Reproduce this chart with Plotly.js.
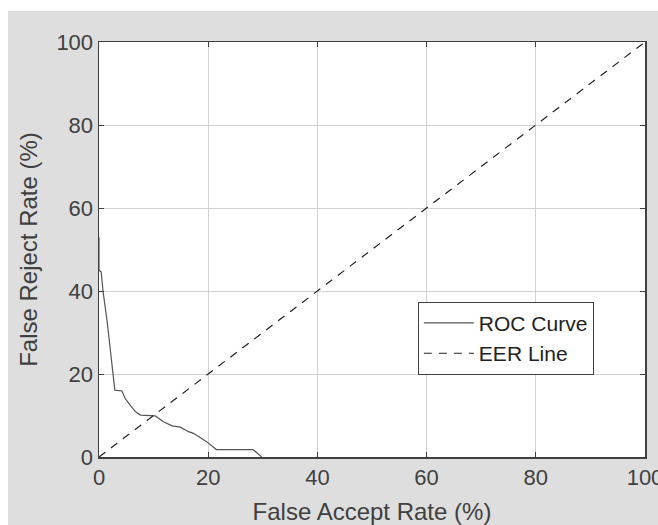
<!DOCTYPE html>
<html>
<head>
<meta charset="utf-8">
<script src="https://cdn.plot.ly/plotly-3.0.1.min.js"></script>
<style>
  html, body { margin: 0; padding: 0; background: #ffffff; overflow: hidden; }
  #chart { position: absolute; left: 8px; top: 11px; width: 650px; height: 514px; }
</style>
</head>
<body>
<div id="chart"></div>
<script>
// ROC curve values (False Accept Rate %, False Reject Rate %)
const rocFAR = [0, 0, 0.4, 0.75, 1.5, 1.9, 2.5, 2.9, 4.2, 4.8, 5.7, 6.7, 7.6, 9.7, 10.3, 11.8, 13.4, 14.9, 16.4, 17.3, 19.7, 21.5, 28.2, 29.8];
const rocFRR = [53, 45, 44.6, 39.8, 32.6, 28, 21, 16.1, 15.9, 14.1, 12.5, 10.9, 10.1, 9.9, 9.9, 8.5, 7.5, 7.2, 6.1, 5.7, 3.7, 1.8, 1.8, 0];
// Equal error rate reference line
const eerX = [0, 100];
const eerY = [0, 100];
const tickVals = [0, 20, 40, 60, 80, 100];
const tickText = ["0", "20", "40", "60", "80", "100"];

const font = "Liberation Sans, Arial, Helvetica, sans-serif";
const traces = [
  { x: rocFAR, y: rocFRR, type: "scatter", mode: "lines", name: "ROC Curve",
    line: { color: "#555555", width: 1.2 } },
  { x: eerX, y: eerY, type: "scatter", mode: "lines", name: "EER Line",
    line: { color: "#222222", width: 1.2, dash: "8px,7px" } }
];
const axisCommon = {
  range: [0, 100], tickvals: tickVals, ticktext: tickText,
  showgrid: true, gridcolor: "#d2d2d2", gridwidth: 1,
  showline: true, linecolor: "#404040", linewidth: 1.5, mirror: "ticks",
  ticks: "inside", ticklen: 5, tickcolor: "#404040", tickwidth: 1,
  zeroline: false, tickfont: { family: font, size: 22, color: "#404040" },
  ticklabeloverflow: "allow",
  fixedrange: true
};
const layout = {
  width: 650, height: 514,
  margin: { l: 91, r: 13, t: 31, b: 68 },
  paper_bgcolor: "#dedede", plot_bgcolor: "#ffffff",
  showlegend: true,
  xaxis: Object.assign({}, axisCommon, {
    title: { text: "False Accept Rate (%)", font: { family: font, size: 24, color: "#404040" }, standoff: 20 }
  }),
  yaxis: Object.assign({}, axisCommon, {
    title: { text: "False Reject Rate (%)", font: { family: font, size: 24, color: "#404040" }, standoff: 12 }
  }),
  legend: {
    x: 0.584, y: 0.374, xanchor: "left", yanchor: "top",
    bgcolor: "#ffffff", bordercolor: "#404040", borderwidth: 1,
    font: { family: font, size: 21, color: "#222222" },
    itemwidth: 50,
    tracegroupgap: 0
  }
};
Plotly.newPlot("chart", traces, layout, { displayModeBar: false, staticPlot: true });
</script>
</body>
</html>
